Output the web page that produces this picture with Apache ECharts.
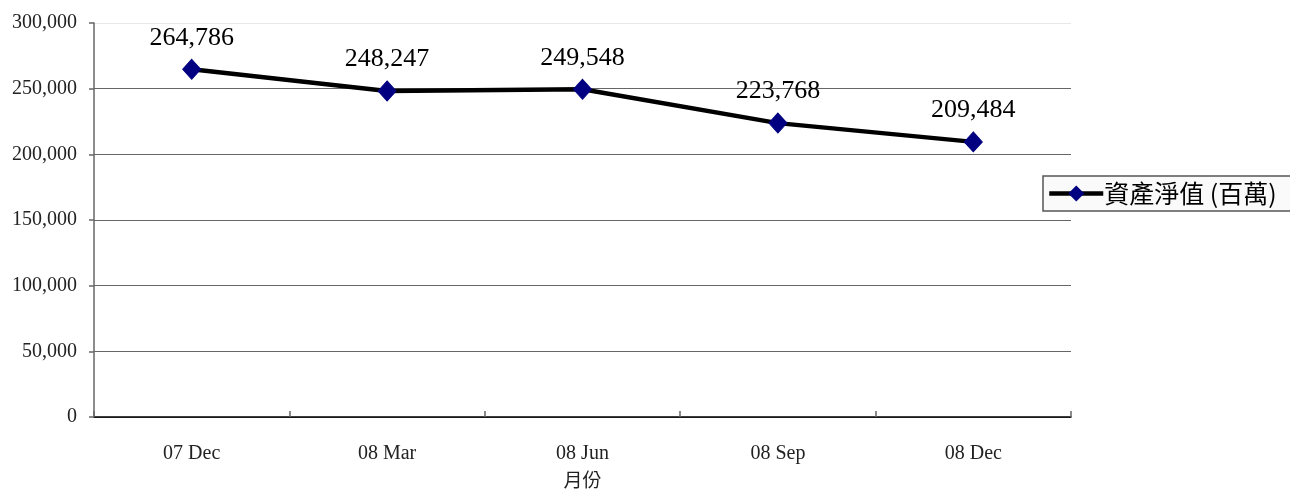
<!DOCTYPE html>
<html>
<head>
<meta charset="utf-8">
<script src="https://cdn.jsdelivr.net/npm/echarts@6/dist/echarts.min.js"></script>
<style>html,body{margin:0;padding:0;background:#fff;}#c{width:1290px;height:490px;}</style>
</head>
<body>
<div id="c"></div>
<script>
const categories = ['07 Dec', '08 Mar', '08 Jun', '08 Sep', '08 Dec'];
const netAssets = [264786, 248247, 249548, 223768, 209484];
const seriesName = '資產淨值 (百萬)';
const xAxisName = '月份';
const yTicks = [0, 50000, 100000, 150000, 200000, 250000, 300000];

const serif = '"Liberation Serif", "DejaVu Serif", "Noto Sans CJK TC", serif';
const fmt = v => v.toLocaleString('en-US');

const chart = echarts.init(document.getElementById('c'));
chart.setOption({
  animation: false,
  backgroundColor: '#fff',
  grid: { left: 94, top: 23, width: 977, height: 394, containLabel: false, outerBoundsMode: 'none' },
  legend: {
    left: 1043, top: 176,
    orient: 'vertical',
    padding: [5, 14, 5, 4],
    backgroundColor: '#fafafa',
    borderColor: '#555',
    borderWidth: 1.5,
    itemWidth: 54, itemHeight: 20,
    itemGap: 4,
    lineStyle: { width: 4.5 },
    textStyle: { fontFamily: '"Noto Sans CJK TC", sans-serif', fontSize: 25, color: '#000', padding: [0, 0, 0, -4] },
    data: [{ name: seriesName }]
  },
  xAxis: {
    type: 'category',
    data: categories,
    boundaryGap: true,
    name: xAxisName,
    nameLocation: 'middle',
    nameGap: 53,
    nameTextStyle: { fontFamily: '"Noto Sans CJK TC", sans-serif', fontSize: 19, color: '#222' },
    axisLine: { lineStyle: { color: '#000', width: 1.5 } },
    axisTick: { show: true, inside: true, length: 6, alignWithLabel: false, lineStyle: { color: '#666', width: 1.5 } },
    axisLabel: { fontFamily: serif, fontSize: 20, color: '#222', margin: 27 },
    splitLine: { show: false }
  },
  yAxis: {
    type: 'value',
    min: 0, max: 300000, interval: 50000,
    axisLine: { show: true, lineStyle: { color: '#666', width: 1.5 } },
    axisTick: { show: true, length: 5, lineStyle: { color: '#666', width: 1.5 } },
    axisLabel: { fontFamily: serif, fontSize: 20, color: '#222', margin: 17, formatter: v => yTicks.includes(v) ? fmt(v) : '' },
    splitLine: { show: true, lineStyle: { color: ['#666', '#666', '#666', '#666', '#666', '#666', '#e8e8e8'], width: 1.2 } }
  },
  series: [{
    name: seriesName,
    type: 'line',
    data: netAssets,
    symbol: 'diamond',
    symbolSize: [18, 20],
    itemStyle: { color: '#000080', borderColor: '#000080' },
    lineStyle: { color: '#000', width: 4.5 },
    label: {
      show: true, position: 'top', distance: 8,
      fontFamily: serif, fontSize: 26, color: '#000',
      formatter: p => fmt(p.value)
    },
    z: 5
  }]
});
</script>
</body>
</html>
